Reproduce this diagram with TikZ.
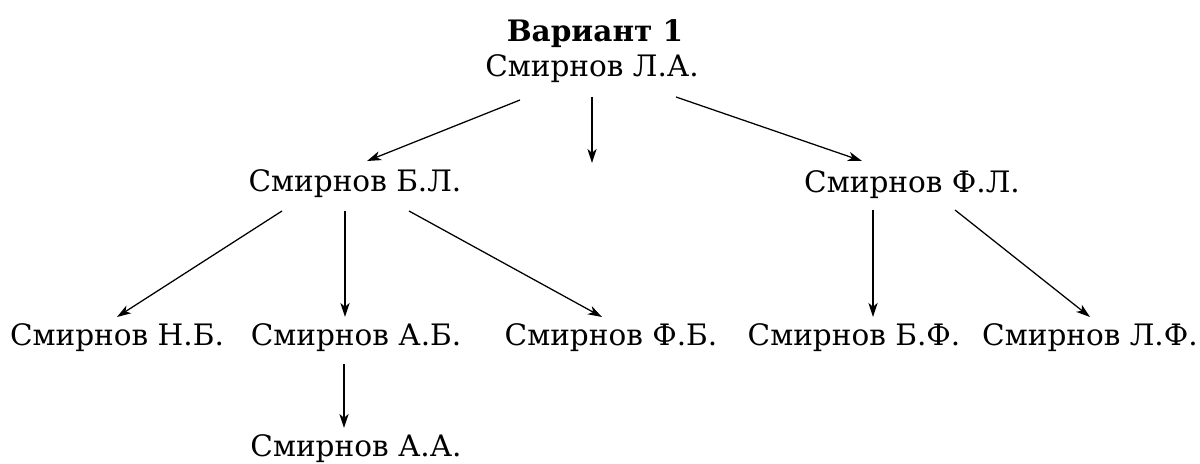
\documentclass[tikz,border=0pt]{standalone}
\usepackage{fontspec}
\setmainfont{DejaVu Serif}
\usetikzlibrary{arrows.meta,calc}
\begin{document}
\begin{tikzpicture}[x=0.025cm,y=-0.025cm,
  lbl/.style={anchor=base,inner sep=0pt,font=\fontsize{21}{25}\selectfont},
  ttl/.style={lbl,font=\fontsize{21}{25}\selectfont\bfseries},
  arr/.style={line width=0.9pt,-{Stealth[length=10pt,width=6.5pt,inset=2.8pt]}}]
\useasboundingbox (0,0) rectangle (1200,464);
\node[ttl] (title) at (595,42) {Вариант 1};
\node[lbl] (la) at (592,77) {Смирнов Л.А.};
\node[lbl] (bl) at (355,192) {Смирнов Б.Л.};
\node[lbl] (fl) at (912,193) {Смирнов Ф.Л.};
\node[lbl] (nb) at (117,345) {Смирнов Н.Б.};
\node[lbl] (ab) at (356,345) {Смирнов А.Б.};
\node[lbl] (fb) at (611,345) {Смирнов Ф.Б.};
\node[lbl] (bf) at (854,345) {Смирнов Б.Ф.};
\node[lbl] (lf) at (1090,345) {Смирнов Л.Ф.};
\node[lbl] (aa) at (356,456) {Смирнов А.А.};
\coordinate (free) at ($(la.base)+(0,86)$);
\draw[arr] ($(la.base)+(-72,23)$) -- ($(bl.base)+(12,-31)$);
\draw[arr] ($(la.base)+(0,20)$) -- (free);
\draw[arr] ($(la.base)+(84,20)$) -- ($(fl.base)+(-50,-32)$);
\draw[arr] ($(bl.base)+(-73,19)$) -- ($(nb.base)+(0,-28)$);
\draw[arr] ($(bl.base)+(-10,19)$) -- ($(ab.base)+(-11,-28)$);
\draw[arr] ($(bl.base)+(54,19)$) -- ($(fb.base)+(-9,-28)$);
\draw[arr] ($(fl.base)+(-39,17)$) -- ($(bf.base)+(19,-28)$);
\draw[arr] ($(fl.base)+(43,17)$) -- ($(lf.base)+(0,-28)$);
\draw[arr] ($(ab.base)+(-12,19)$) -- ($(aa.base)+(-12,-28)$);
\end{tikzpicture}
\end{document}
